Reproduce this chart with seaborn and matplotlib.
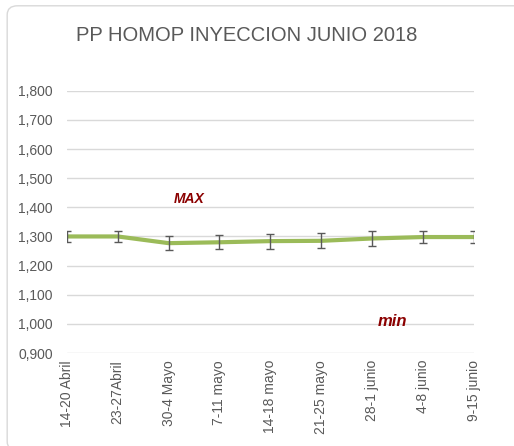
import numpy as np
import pandas as pd
import matplotlib
matplotlib.use("Agg")
import matplotlib.pyplot as plt
from matplotlib.patches import FancyBboxPatch
import seaborn as sns

# Datos
semanas = ["14-20 Abril", "23-27Abril", "30-4 Mayo", "7-11 mayo", "14-18 mayo",
           "21-25 mayo", "28-1 junio", "4-8 junio", "9-15 junio"]
valores = [1.300, 1.300, 1.277, 1.280, 1.284, 1.285, 1.293, 1.298, 1.298]
errores = [0.020, 0.019, 0.025, 0.024, 0.026, 0.026, 0.025, 0.020, 0.020]
y_ticks = [0.9, 1.0, 1.1, 1.2, 1.3, 1.4, 1.5, 1.6, 1.7, 1.8]

df = pd.DataFrame({"semana": semanas, "pos": range(len(semanas)),
                   "valor": valores, "err": errores})

sns.set_theme(style="white")
plt.rcParams['font.family'] = ['Liberation Sans', 'DejaVu Sans']

fig = plt.figure(figsize=(5.14, 4.46), dpi=100)
# marco redondeado del grafico (se sale por la derecha y abajo)
fig.patches.append(FancyBboxPatch((0.014, -0.01), 1.01, 0.997,
                                  boxstyle="round,pad=0,rounding_size=0.02",
                                  transform=fig.transFigure, fill=False,
                                  edgecolor="#D9D9D9", linewidth=1))
ax = fig.add_axes([0.130, 0.2085, 0.792, 0.588])

for t in y_ticks:
    ax.axhline(t, color="#D9D9D9", linewidth=1, zorder=0)

sns.lineplot(data=df, x="pos", y="valor", color="#9BBB59", linewidth=3,
             ax=ax, zorder=3)
ax.errorbar(df["pos"], df["valor"], yerr=df["err"], fmt="none",
            ecolor="#595959", elinewidth=1, capsize=3, capthick=1, zorder=4)

ax.set_xlim(0, len(semanas) - 1)
ax.set_ylim(0.9, 1.8)
ax.set_yticks(y_ticks)
ax.set_yticklabels([f"{v:.3f}".replace(".", ",") for v in y_ticks])
ax.set_xticks(df["pos"])
ax.set_xticklabels(semanas, rotation=90)
ax.tick_params(axis="both", labelsize=10, colors="#595959", length=0)
ax.tick_params(axis="y", pad=10)
ax.tick_params(axis="x", pad=5)
ax.set_xlabel("")
ax.set_ylabel("")
for s in ax.spines.values():
    s.set_visible(False)

ax.text(2.4, 1.43, "MAX", color="#8B0000", fontsize=10, fontweight="bold",
        fontstyle="italic", ha="center", va="center")
ax.text(6.4, 1.007, "min", color="#8B0000", fontsize=12, fontweight="bold",
        fontstyle="italic", ha="center", va="center")

fig.text(0.48, 0.920, "PP HOMOP INYECCION JUNIO 2018", ha="center", va="center",
         fontsize=14.5, color="#595959")

fig.savefig("out.png", dpi=100)
